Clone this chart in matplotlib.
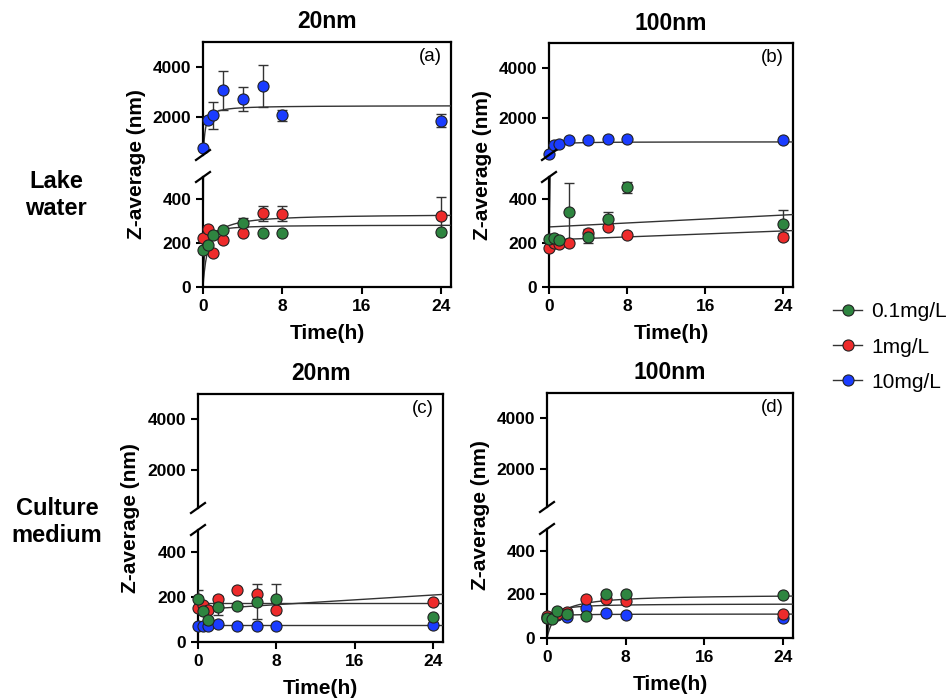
import matplotlib.pyplot as plt
from matplotlib.lines import Line2D
import numpy as np

plt.rcParams['font.family'] = ['Liberation Sans', 'DejaVu Sans']

W, H = 950, 700

time_h = [0, 0.5, 1, 2, 4, 6, 8, 24]
labels = ['0.1mg/L', '1mg/L', '10mg/L']
colors = ['#2e8540', '#ee2b2b', '#1a3cff']

# (a) lake water, 20nm
a_green = [170, 193, 237, 260, 293, 246, 246, 249]
a_green_err = [0, 0, 0, 0, 20, 0, 0, 0]
a_red = [221, 265, 154, 212, 247, 335, 333, 323]
a_red_err = [0, 0, 0, 0, 0, 35, 35, 87]
a_blue = [770, 1910, 2080, 3070, 2730, 3240, 2080, 1870]
a_blue_err = [0, 0, 550, 770, 490, 840, 220, 270]

# (b) lake water, 100nm
b_green = [217, 222, 214, 340, 229, 307, 454, 285]
b_green_err = [0, 10, 0, 135, 30, 33, 25, 65]
b_red = [177, 202, 195, 202, 247, 274, 237, 229]
b_red_err = [0, 0, 0, 0, 15, 0, 0, 15]
b_blue = [523, 886, 953, 1087, 1087, 1154, 1128, 1114]
b_blue_err = [0, 0, 0, 0, 0, 0, 0, 0]

# (c) culture medium, 20nm
c_green = [190, 139, 100, 157, 160, 179, 194, 112]
c_green_err = [42, 0, 0, 38, 0, 78, 64, 0]
c_red = [152, 164, 145, 190, 232, 213, 145, 179]
c_red_err = [0, 0, 0, 15, 0, 0, 0, 0]
c_blue = [72, 72, 72, 79, 72, 70, 72, 75]
c_blue_err = [0, 0, 0, 0, 0, 0, 0, 0]

# (d) culture medium, 100nm
d_green = [93, 88, 125, 110, 101, 204, 202, 195]
d_green_err = [0, 0, 0, 0, 0, 0, 0, 0]
d_red = [102, 90, 112, 117, 181, 180, 172, 109]
d_red_err = [0, 0, 0, 0, 0, 0, 0, 0]
d_blue = [94, 93, 107, 95, 136, 116, 104, 92]
d_blue_err = [0, 0, 0, 0, 0, 0, 0, 0]

# fitted curves: ('hyp', Bmax, Kd) or ('lin', intercept, slope)
a_fits = [('hyp', 282, 0.15), ('hyp', 332, 0.5), ('hyp', 2470, 0.15)]
b_fits = [('lin', 273, 2.25), ('lin', 214, 1.7), ('hyp', 1030, 0.12)]
c_fits = [('lin', 145, 2.7), ('lin', 176, 0), ('lin', 76, 0)]
d_fits = [('hyp', 200, 1.0), ('hyp', 157, 0.3), ('hyp', 110, 0.1)]

fig = plt.figure(figsize=(W / 100, H / 100), dpi=100)


def px_axes(l, t, r, b):
    return fig.add_axes([l / W, 1 - b / H, (r - l) / W, (b - t) / H])


def fx(x):
    return x / W


def fy(y):
    return 1 - y / H


def fit_curve(spec, t):
    if spec[0] == 'hyp':
        return spec[1] * t / (spec[2] + t)
    return spec[1] + spec[2] * t


def style(ax):
    ax.set_facecolor('none')
    ax.tick_params(width=1.5, length=5, labelsize=12.5, direction='out')
    for lab in ax.get_xticklabels() + ax.get_yticklabels():
        lab.set_fontweight('bold')
    for s in ax.spines.values():
        s.set_linewidth(1.6)


def panel(geom, series, errs, fits, title, letter):
    l, r, top, ub, lt, bot = geom
    frame = px_axes(l, top, r, bot)
    frame.set_xticks([])
    frame.set_yticks([])
    frame.spines['left'].set_visible(False)
    frame.spines['bottom'].set_visible(False)
    for s in ('top', 'right'):
        frame.spines[s].set_linewidth(1.6)
    frame.set_facecolor('none')

    up = px_axes(l, top, r, ub)
    lo = px_axes(l, lt, r, bot)
    up.set_ylim(500, 5000)
    up.set_yticks([2000, 4000])
    up.set_xticks([])
    lo.set_ylim(0, 500)
    lo.set_yticks([0, 200, 400])
    lo.set_xticks([0, 8, 16, 24])
    for ax in (up, lo):
        ax.set_xlim(0, 25)
        ax.spines['top'].set_visible(False)
        ax.spines['right'].set_visible(False)
    up.spines['bottom'].set_visible(False)
    style(up)
    style(lo)

    t = np.linspace(0.001, 25, 400)
    for f in fits:
        for ax in (up, lo):
            ax.plot(t, fit_curve(f, t), color='#333333', lw=1.0, zorder=2)

    # blue drawn first, green last (on top)
    for i in (2, 1, 0):
        y = np.array(series[i], dtype=float)
        e = np.array(errs[i], dtype=float)
        tt = np.array(time_h)
        for ax, lo_v, hi_v in ((up, 500, 5000), (lo, 0, 500)):
            m = (y >= lo_v) & (y < hi_v)
            me = m & (e > 0)
            if me.any():
                ax.errorbar(tt[me], y[me], yerr=e[me], fmt='none', ecolor='#333333',
                            elinewidth=1.0, capsize=3.5, capthick=1.0, zorder=3)
            ax.plot(tt[m], y[m], 'o', color=colors[i], mec='#222222', mew=0.8,
                    ms=8, clip_on=False, zorder=4)

    # axis break marks
    for yb in (ub, lt):
        fig.add_artist(Line2D([fx(l - 7), fx(l + 7)], [fy(yb + 5), fy(yb - 5)],
                              color='black', lw=1.6, transform=fig.transFigure))

    up.text(1 - 9 / (r - l), 1 - 6 / (ub - top), letter, transform=up.transAxes,
            ha='right', va='top', fontsize=13.5)
    fig.text(fx((l + r) / 2), fy(top - 20), title, ha='center', va='center',
             fontsize=16.5, fontweight='bold')
    fig.text(fx((l + r) / 2), fy(bot + 46), 'Time(h)', ha='center', va='center',
             fontsize=15, fontweight='bold')
    fig.text(fx(l - 67), fy((top + bot) / 2), 'Z-average (nm)', rotation=90,
             ha='center', va='center', fontsize=15, fontweight='bold')


panel((203, 451, 42, 155, 177, 287), [a_green, a_red, a_blue],
      [a_green_err, a_red_err, a_blue_err], a_fits, '20nm', '(a)')
panel((549, 793, 43, 155, 177, 287), [b_green, b_red, b_blue],
      [b_green_err, b_red_err, b_blue_err], b_fits, '100nm', '(b)')
panel((198, 443, 394, 508, 530, 642), [c_green, c_red, c_blue],
      [c_green_err, c_red_err, c_blue_err], c_fits, '20nm', '(c)')
panel((547, 793, 393, 507, 529, 638), [d_green, d_red, d_blue],
      [d_green_err, d_red_err, d_blue_err], d_fits, '100nm', '(d)')

fig.text(fx(56), fy(195), 'Lake\nwater', ha='center', va='center',
         fontsize=17, fontweight='bold', linespacing=1.2)
fig.text(fx(57), fy(522), 'Culture\nmedium', ha='center', va='center',
         fontsize=17, fontweight='bold', linespacing=1.2)

handles = [Line2D([], [], color='#333333', lw=1.0, marker='o', mfc=c,
                  mec='#222222', mew=0.8, ms=8) for c in colors]
fig.legend(handles, labels, loc='center left', bbox_to_anchor=(fx(833), fy(347)),
           frameon=False, fontsize=15, handlelength=1.4, handletextpad=0.45,
           labelspacing=0.78, borderpad=0, borderaxespad=0)

fig.savefig('out.png', dpi=100)
